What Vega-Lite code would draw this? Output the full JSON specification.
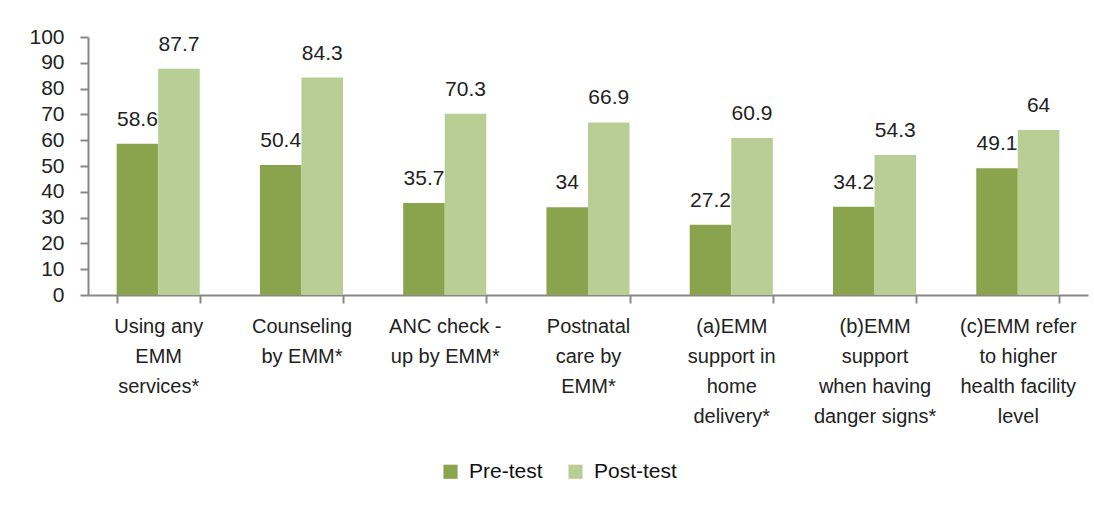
{
  "$schema": "https://vega.github.io/schema/vega-lite/v6.json",
  "autosize": {"type": "none"},
  "width": 1000,
  "height": 258,
  "padding": {"left": 88, "top": 37, "right": 6, "bottom": 211},
  "background": "white",
  "config": {
    "font": "Liberation Sans",
    "view": {"stroke": null}
  },
  "data": {
    "values": [
      {"cat": "Using any|EMM|services*", "series": "Pre-test", "value": 58.6},
      {"cat": "Using any|EMM|services*", "series": "Post-test", "value": 87.7},
      {"cat": "Counseling|by EMM*", "series": "Pre-test", "value": 50.4},
      {"cat": "Counseling|by EMM*", "series": "Post-test", "value": 84.3},
      {"cat": "ANC check -|up by EMM*", "series": "Pre-test", "value": 35.7},
      {"cat": "ANC check -|up by EMM*", "series": "Post-test", "value": 70.3},
      {"cat": "Postnatal|care by|EMM*", "series": "Pre-test", "value": 34},
      {"cat": "Postnatal|care by|EMM*", "series": "Post-test", "value": 66.9},
      {"cat": "(a)EMM|support in|home|delivery*", "series": "Pre-test", "value": 27.2},
      {"cat": "(a)EMM|support in|home|delivery*", "series": "Post-test", "value": 60.9},
      {"cat": "(b)EMM|support|when having|danger signs*", "series": "Pre-test", "value": 34.2},
      {"cat": "(b)EMM|support|when having|danger signs*", "series": "Post-test", "value": 54.3},
      {"cat": "(c)EMM refer|to higher|health facility|level", "series": "Pre-test", "value": 49.1},
      {"cat": "(c)EMM refer|to higher|health facility|level", "series": "Post-test", "value": 64}
    ]
  },
  "encoding": {
    "x": {
      "field": "cat", "type": "nominal", "sort": null,
      "scale": {"paddingInner": 0.42, "paddingOuter": 0.2},
      "axis": {
        "title": null, "labelAngle": 0, "labelExpr": "split(datum.label, '|')",
        "labelFontSize": 20, "labelLineHeight": 30, "labelColor": "#222",
        "labelPadding": 13, "tickBand": "extent", "tickSize": 8,
        "tickColor": "#888", "domainColor": "#888", "domainWidth": 2, "tickWidth": 2,
        "labelBaseline": "top"
      }
    },
    "xOffset": {"field": "series", "type": "nominal", "sort": ["Pre-test", "Post-test"], "scale": {"paddingInner": 0}},
    "y": {
      "field": "value", "type": "quantitative",
      "scale": {"domain": [0, 100], "nice": false},
      "axis": {
        "title": null, "values": [0,10,20,30,40,50,60,70,80,90,100], "grid": false,
        "labelFontSize": 21, "labelColor": "#222", "tickSize": 8, "tickColor": "#888",
        "domainColor": "#888", "domainWidth": 2, "tickWidth": 2, "labelPadding": 16
      }
    }
  },
  "layer": [
    {
      "mark": {"type": "bar"},
      "encoding": {
        "color": {
          "field": "series", "type": "nominal",
          "scale": {"domain": ["Pre-test", "Post-test"], "range": ["#8aa44e", "#b8ce95"]},
          "legend": {
            "title": null, "orient": "none", "direction": "horizontal",
            "legendX": 352, "legendY": 424, "symbolType": "square", "symbolSize": 200,
            "symbolStrokeWidth": 0, "labelFontSize": 21, "labelColor": "#111",
            "columnPadding": 22, "labelOffset": 8
          }
        }
      }
    },
    {
      "mark": {"type": "text", "baseline": "bottom", "dy": -14, "fontSize": 21, "color": "#222"},
      "encoding": {"text": {"field": "value", "type": "quantitative"}}
    }
  ]
}
